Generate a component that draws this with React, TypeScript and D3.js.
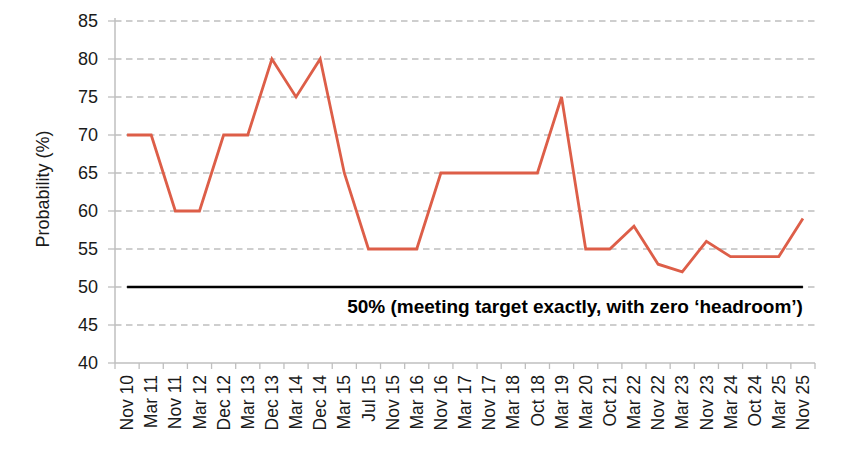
import React from 'react';
import * as d3 from 'd3';

const categories = [
  'Nov 10', 'Mar 11', 'Nov 11', 'Mar 12', 'Dec 12', 'Mar 13', 'Dec 13', 'Mar 14', 'Dec 14', 'Mar 15',
  'Jul 15', 'Nov 15', 'Mar 16', 'Nov 16', 'Mar 17', 'Nov 17', 'Mar 18', 'Oct 18', 'Mar 19', 'Mar 20',
  'Oct 21', 'Mar 22', 'Nov 22', 'Mar 23', 'Nov 23', 'Mar 24', 'Oct 24', 'Mar 25', 'Nov 25',
];
const probability = [
  70, 70, 60, 60, 70, 70, 80, 75, 80, 65,
  55, 55, 55, 65, 65, 65, 65, 65, 75, 55,
  55, 58, 53, 52, 56, 54, 54, 54, 59,
];
const yTicks = [40, 45, 50, 55, 60, 65, 70, 75, 80, 85];
const targetValue = 50;
const targetLabel = '50% (meeting target exactly, with zero \u2018headroom\u2019)';

const W = 848;
const H = 453;
const margin = {top: 21, right: 33, bottom: 90, left: 115};
const font = 'Arial, "Liberation Sans", sans-serif';

const App: React.FC = () => {
  const x = d3.scaleBand<string>()
    .domain(categories)
    .range([margin.left, W - margin.right]);
  const y = d3.scaleLinear()
    .domain([40, 85])
    .range([H - margin.bottom, margin.top]);

  const cx = (c: string) => (x(c) ?? 0) + x.bandwidth() / 2;

  const line = d3.line<number>()
    .x((_, i) => cx(categories[i]))
    .y(d => y(d));

  const x0 = margin.left;
  const x1 = W - margin.right;
  const yBase = y(40);
  const tickEdges = categories.map(c => x(c) ?? 0).concat([x1]);

  return (
    <svg width={W} height={H} style={{position: 'absolute', left: 0, top: 0, background: '#fff'}}
         fontFamily={font}>
      {/* gridlines */}
      {yTicks.filter(t => t !== 40).map(t => (
        <line key={t} x1={x0} x2={x1} y1={y(t)} y2={y(t)}
              stroke="#BFBFBF" strokeWidth={1.3} strokeDasharray="6.5,4.5"/>
      ))}
      {/* y axis */}
      <line x1={x0} x2={x0} y1={margin.top - 3} y2={yBase} stroke="#BFBFBF" strokeWidth={1.5}/>
      {yTicks.map(t => (
        <g key={t}>
          <line x1={x0 - 7} x2={x0} y1={y(t)} y2={y(t)} stroke="#BFBFBF" strokeWidth={1.3}/>
          <text x={98} y={y(t)} dy="0.35em" textAnchor="end" fontSize={18} fill="#1a1a1a">{t}</text>
        </g>
      ))}
      {/* x axis */}
      <line x1={x0} x2={x1} y1={yBase} y2={yBase} stroke="#BFBFBF" strokeWidth={1.5}/>
      {tickEdges.map((e, i) => (
        <line key={i} x1={e} x2={e} y1={yBase} y2={yBase + 6} stroke="#BFBFBF" strokeWidth={1.3}/>
      ))}
      {categories.map(c => (
        <text key={c} transform={`translate(${cx(c)},${yBase + 12}) rotate(-90)`}
              textAnchor="end" dy="0.35em" fontSize={17.5} fill="#1a1a1a">{c}</text>
      ))}
      {/* y title */}
      <text transform={`translate(43,189) rotate(-90)`} textAnchor="middle"
            dy="0.35em" fontSize={18} fill="#1a1a1a">Probability (%)</text>
      {/* target line */}
      <line x1={cx(categories[0])} x2={cx(categories[categories.length - 1])}
            y1={y(targetValue)} y2={y(targetValue)} stroke="#000" strokeWidth={2.5}/>
      <text x={cx(categories[categories.length - 1])} y={y(targetValue) + 19} dy="0.35em"
            textAnchor="end" fontSize={19} fontWeight="bold" fill="#000">{targetLabel}</text>
      {/* series */}
      <path d={line(probability) ?? ''} fill="none" stroke="#DD5E48" strokeWidth={2.8}
            strokeLinejoin="miter"/>
    </svg>
  );
};

export default App;
